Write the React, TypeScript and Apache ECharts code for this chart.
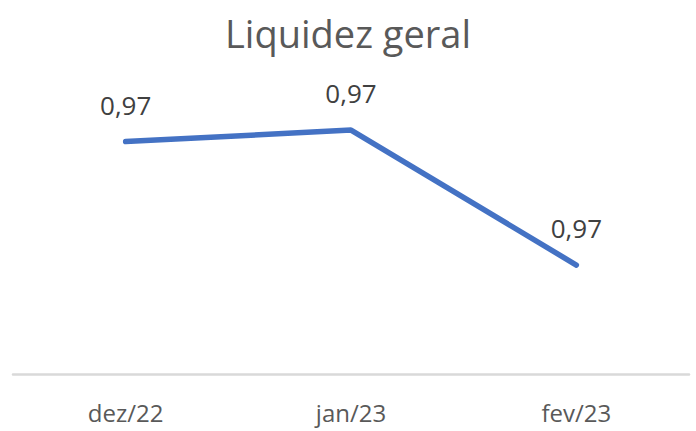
import React, { useEffect, useRef } from "react";
import * as echarts from "echarts";

const categories = ["dez/22", "jan/23", "fev/23"];
const values = [0.97111, 0.97166, 0.96522];
const titleText = "Liquidez geral";

export default function App() {
  const ref = useRef<HTMLDivElement>(null);
  useEffect(() => {
    const chart = echarts.init(ref.current!, null, { renderer: "svg" });
    chart.setOption({
      animation: false,
      backgroundColor: "#ffffff",
      title: {
        text: titleText,
        left: "center",
        top: 9,
        textStyle: {
          fontFamily: "Open Sans",
          fontSize: 38,
          fontWeight: "normal",
          color: "#595959",
        },
      },
      grid: { left: 13, right: 7, top: 60, bottom: 56.5 },
      xAxis: {
        type: "category",
        data: categories,
        boundaryGap: true,
        axisLine: { show: true, lineStyle: { color: "#d9d9d9", width: 2.5 } },
        axisTick: { show: false },
        axisLabel: {
          margin: 26,
          fontFamily: "Open Sans",
          fontSize: 24,
          color: "#595959",
        },
      },
      yAxis: {
        type: "value",
        min: 0.96,
        max: 0.975,
        show: false,
        splitLine: { show: false },
      },
      series: [
        {
          type: "line",
          data: values,
          symbol: "circle",
          symbolSize: 2,
          showSymbol: true,
          lineStyle: { color: "#4472C4", width: 5.5, cap: "round" },
          itemStyle: { color: "#4472C4" },
          label: {
            show: true,
            position: "top",
            distance: 23,
            fontFamily: "Open Sans",
            fontSize: 26,
            color: "#404040",
            formatter: (p: any) => p.value.toFixed(2).replace(".", ","),
          },
        },
      ],
    });
    return () => chart.dispose();
  }, []);
  return (
    <div
      ref={ref}
      style={{ position: "absolute", left: 0, top: 0, width: 696, height: 431 }}
    />
  );
}
